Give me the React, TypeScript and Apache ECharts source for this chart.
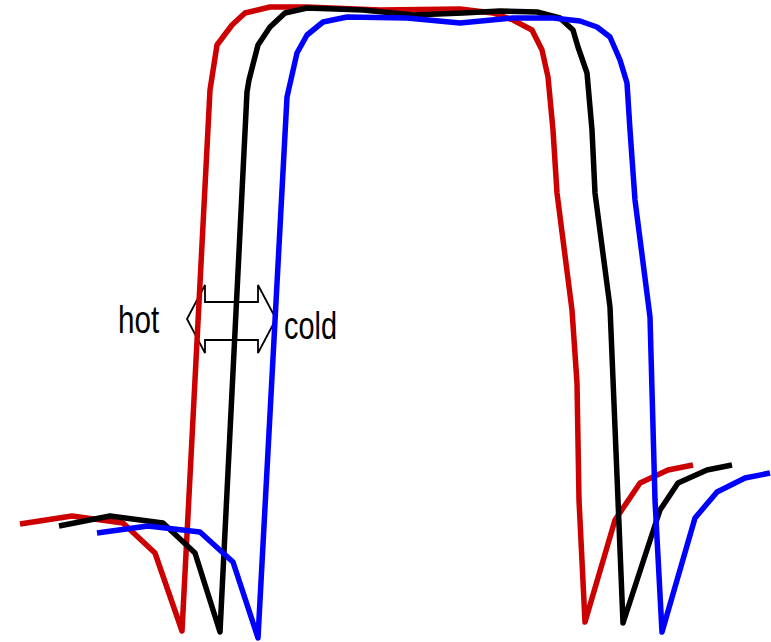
import React, { useEffect, useRef } from "react";
import * as echarts from "echarts";

const hotCurve: [number, number][] = [
  [20, 524], [72, 516], [123, 523], [155, 553], [182, 631], [210, 90], [217, 45],
  [232, 25], [245, 13], [270, 7], [307, 7], [380, 10], [460, 9], [493, 13],
  [513, 20], [532, 30], [542, 50], [548, 77], [553, 130], [557, 193], [572, 310],
  [577, 383], [579, 500], [585, 622], [615, 520], [640, 483], [668, 470], [693, 465],
];
const midCurve: [number, number][] = [
  [59, 526], [110, 516], [163, 523], [195, 553], [220, 632], [247, 92], [249, 80],
  [258, 45], [270, 27], [285, 13], [307, 8], [363, 10], [413, 15], [463, 13],
  [500, 11], [537, 12], [560, 18], [573, 30], [578, 47], [587, 73], [592, 130],
  [595, 193], [610, 307], [618, 500], [623, 623], [660, 510], [678, 483],
  [707, 470], [732, 465],
];
const coldCurve: [number, number][] = [
  [97, 533], [148, 526], [200, 532], [233, 562], [258, 638], [287, 97], [297, 53],
  [307, 35], [323, 22], [347, 17], [407, 18], [460, 23], [513, 18], [553, 18],
  [580, 21], [597, 27], [610, 37], [620, 60], [627, 83], [630, 130], [635, 200],
  [650, 317], [655, 500], [662, 632], [695, 518], [717, 492], [745, 478], [770, 473],
];
const labels = ["hot", "cold"];

export default function App() {
  const ref = useRef<HTMLDivElement>(null);
  useEffect(() => {
    if (!ref.current) return;
    const chart = echarts.init(ref.current, null, { renderer: "svg" });
    const mk = (name: string, data: [number, number][], color: string) => ({
      name,
      type: "line",
      data,
      showSymbol: false,
      symbol: "none",
      z: 3,
      lineStyle: { color, width: 5.5, join: "round", cap: "butt" },
    });
    const arrowPts = [
      [187, 319], [205, 285], [205, 302], [258, 302], [258, 285], [276, 319],
      [258, 353], [258, 340], [205, 340], [205, 353],
    ];
    const textStyle = {
      fontSize: 38,
      fontFamily: "Liberation Sans, Arial, sans-serif",
      fill: "#000",
      align: "left",
      verticalAlign: "middle",
    };
    chart.setOption({
      animation: false,
      backgroundColor: "#ffffff",
      grid: { left: 0, right: 0, top: 0, bottom: 0 },
      xAxis: { type: "value", min: 0, max: 771, show: false },
      yAxis: { type: "value", min: 0, max: 642, inverse: true, show: false },
      series: [
        mk("hot", hotCurve, "#cc0000"),
        mk("mid", midCurve, "#000000"),
        mk("cold", coldCurve, "#0000ff"),
      ],
      graphic: [
        {
          type: "polygon",
          z: 1,
          shape: { points: arrowPts },
          style: { fill: "none", stroke: "#000", lineWidth: 1.8 },
        },
        {
          type: "text",
          x: 118,
          y: 320,
          scaleX: 0.78,
          z: 5,
          style: { ...textStyle, text: labels[0] },
        },
        {
          type: "text",
          x: 284,
          y: 325,
          scaleX: 0.76,
          z: 5,
          style: { ...textStyle, text: labels[1] },
        },
      ],
    });
    return () => chart.dispose();
  }, []);
  return (
    <div
      ref={ref}
      style={{ position: "fixed", left: 0, top: 0, width: 771, height: 642 }}
    />
  );
}
